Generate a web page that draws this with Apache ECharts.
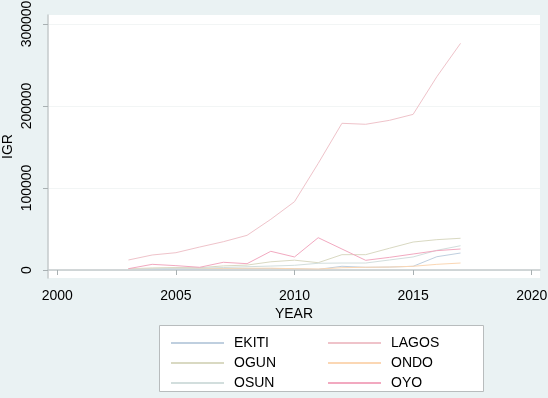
<!DOCTYPE html>
<html>
<head>
<meta charset="utf-8">
<script src="https://cdn.jsdelivr.net/npm/echarts@6/dist/echarts.min.js"></script>
<style>
  html, body { margin: 0; padding: 0; background: #eaf2f3; }
  #chart { width: 548px; height: 398px; }
</style>
</head>
<body>
<div id="chart"></div>
<script>
const years = [2003, 2004, 2005, 2006, 2007, 2008, 2009, 2010, 2011, 2012, 2013, 2014, 2015, 2016, 2017]
const ekiti = [800, 1000, 1200, 1300, 1500, 1700, 1900, 1600, 800, 4500, 3300, 3600, 4500, 16200, 20700]
const lagos = [12200, 18300, 21100, 28000, 34500, 42300, 61800, 83300, 130000, 178900, 177700, 182500, 189800, 235700, 276400]
const ogun = [1500, 2500, 3000, 2800, 5000, 6000, 10000, 12000, 8900, 18700, 18700, 26500, 34100, 37000, 38700]
const ondo = [1500, 1800, 2000, 1800, 2000, 2200, 2200, 1600, 1200, 2800, 3300, 3600, 4500, 6900, 8500]
const osun = [1200, 1500, 2000, 2200, 3000, 4000, 4800, 5700, 8200, 8500, 8500, 12200, 15900, 24000, 29600]
const oyo = [1600, 6900, 5300, 3300, 9400, 7700, 22800, 15900, 39400, 25600, 11800, 15400, 19500, 23600, 25600]

const xTicks = [2000, 2005, 2010, 2015, 2020]
const yTicks = [0, 100000, 200000, 300000]

const font = 'Arial, "Liberation Sans", sans-serif'
const pair = (vals) => years.map((y, i) => [y, vals[i]])

const chart = echarts.init(document.getElementById('chart'))

const mk = (name, vals, color) => ({
  name: name,
  type: 'line',
  symbol: 'none',
  data: pair(vals),
  lineStyle: { width: 1, color: color },
  itemStyle: { color: color },
  emphasis: { disabled: true },
  animation: false
})

const legendCommon = {
  orient: 'vertical',
  itemWidth: 53,
  itemHeight: 14,
  itemGap: 6,
  itemStyle: { opacity: 0 },
  textStyle: { fontFamily: font, fontSize: 14, color: '#000', padding: [0, 0, 0, 5] },
  selectedMode: false
}

chart.setOption({
  backgroundColor: '#eaf2f3',
  animation: false,
  grid: {
    left: 48, right: 8, top: 15, bottom: 120,
    outerBoundsMode: 'none',
    containLabel: false,
    show: true, backgroundColor: '#ffffff', borderWidth: 0
  },
  xAxis: {
    type: 'value',
    min: 1999.608,
    max: 2020.35,
    name: 'YEAR',
    nameLocation: 'middle',
    nameGap: 29,
    nameMoveOverlap: false,
    nameTextStyle: { fontFamily: font, fontSize: 14, color: '#000' },
    axisLine: { show: true, lineStyle: { color: '#c4cacb', width: 1.5 } },
    axisTick: { show: true, length: 5, customValues: xTicks, lineStyle: { color: '#a8b0b2' } },
    axisLabel: { customValues: xTicks, fontFamily: font, fontSize: 14, color: '#000', margin: 11, formatter: v => String(v) },
    splitLine: { show: false }
  },
  yAxis: {
    type: 'value',
    min: -9756,
    max: 310976,
    name: 'IGR',
    nameLocation: 'middle',
    nameRotate: 90,
    nameGap: 33,
    nameMoveOverlap: false,
    nameTextStyle: { fontFamily: font, fontSize: 14, color: '#000' },
    axisLine: { show: true, lineStyle: { color: '#c4cacb', width: 1.5 } },
    axisTick: { show: true, length: 5, customValues: yTicks, lineStyle: { color: '#a8b0b2' } },
    axisLabel: { customValues: yTicks, rotate: 90, fontFamily: font, fontSize: 14, color: '#000', margin: 14, formatter: v => String(v) },
    splitLine: { show: true, lineStyle: { color: '#f2f5f5', width: 1 } }
  },
  graphic: [{
    type: 'rect',
    left: 159, top: 325,
    shape: { width: 324, height: 66 },
    style: { fill: '#ffffff', stroke: '#b8bcbd', lineWidth: 1 },
    z: 0
  }],
  legend: [
    Object.assign({ left: 165, top: 331, data: ['EKITI', 'OGUN', 'OSUN'] }, legendCommon),
    Object.assign({ left: 322, top: 331, data: ['LAGOS', 'ONDO', 'OYO'] }, legendCommon)
  ],
  series: [
    mk('EKITI', ekiti, '#bfcfdf'),
    mk('LAGOS', lagos, '#efc3ca'),
    mk('OGUN', ogun, '#d9d9c2'),
    mk('ONDO', ondo, '#fbd7b4'),
    mk('OSUN', osun, '#d2dedd'),
    mk('OYO', oyo, '#f2a9c0')
  ]
})
</script>
</body>
</html>
